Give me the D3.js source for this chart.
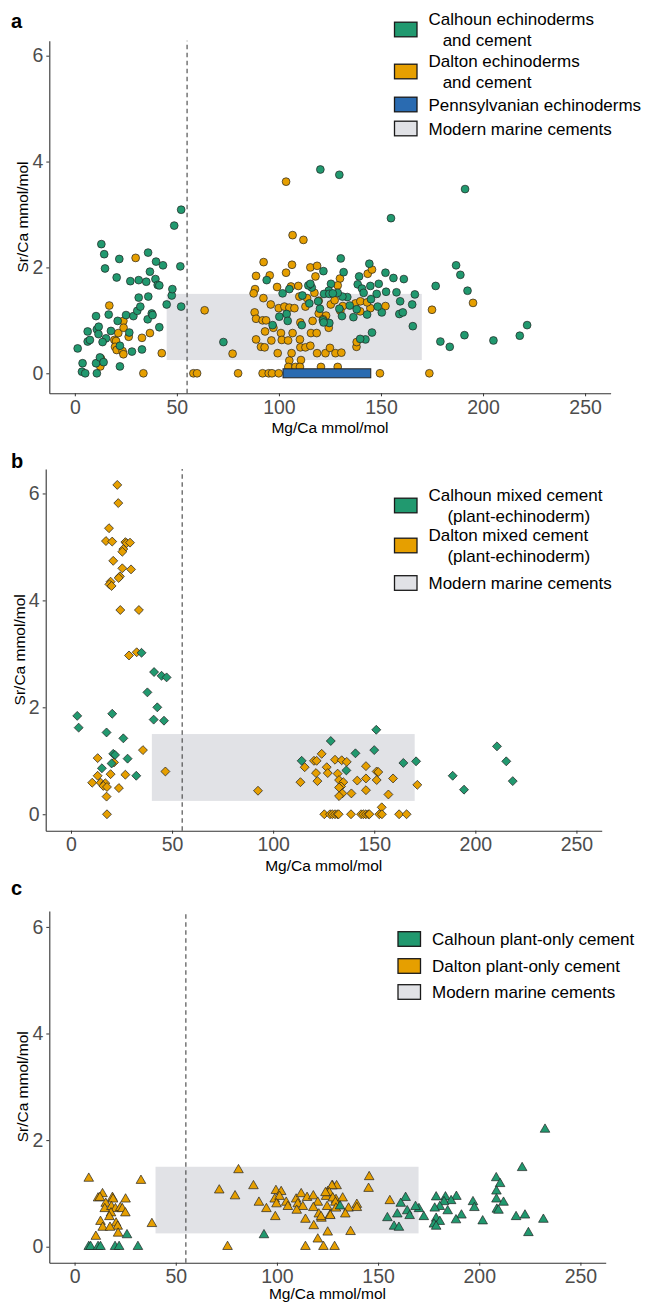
<!DOCTYPE html>
<html>
<head>
<meta charset="utf-8">
<script src="https://cdn.jsdelivr.net/npm/d3@7"></script>
<style>
  body { margin: 0; background: #fff; }
  svg text { font-family: "Liberation Sans", Arial, sans-serif; }
</style>
</head>
<body>
<svg id="chart" width="647" height="1303"></svg>
<script>
// ---- data (Mg/Ca, Sr/Ca in mmol/mol) ----
var xTicks = [0, 50, 100, 150, 200, 250];
var yTicks = [0, 2, 4, 6];
var seawaterLine = 55;

var modernA = [45, 170, 0.25, 1.5];
var modernBC = [40, 170, 0.25, 1.5];
var pennsylvanian = [102, 145, -0.085, 0.085];

var calhounA = [
	[1.4,0.47],[3.8,0.19],[3.5,0.03],[5.1,0],[6.3,0.79],[6.3,0.6],[7.4,0.63],[10.4,1.08],[10.8,0.83],[11.7,0.88],
	[11.6,0.74],[10.4,0.19],[10.8,0],[12.3,0.3],[13.0,2.44],[14.1,0.21],[14.4,2.25],[14.8,1.98],[15.3,0.66],[13.6,0.59],
	[16.6,1.11],[17.7,0.8],[20.5,1.81],[21.0,0.99],[21.8,2.16],[22.1,0.52],[22.1,0.13],[25.1,1.1],[26.7,0.77],[27.2,1.74],
	[28.0,0.41],[28.7,1.08],[30.6,1.18],[31.3,1.43],[31.3,1.76],[32.1,1.26],[32.9,0.45],[35.0,1.73],[35.9,2.28],[36.0,1.45],
	[35.7,1.02],[36.8,1.92],[37.7,1.13],[38.1,1.1],[39.5,1.78],[39.8,2.11],[40.6,1.67],[41.4,1.66],[41.4,0.87],[43.2,2.04],
	[45.0,1.3],[47.5,1.47],[47.8,1.59],[48.7,2.79],[52.1,3.09],[51.7,2.02],[52.1,1.26],[72.8,0.59],
	[120.3,3.85],[129.6,3.75],[191.2,3.48],[154.9,2.93],[130.3,2.17],[144.3,2.07],[131.7,1.91],[139.3,1.83],[152.2,1.9],[156.1,1.8],
	[161.2,1.78],[186.8,2.04],[188.9,1.86],[192.4,1.56],[176.8,1.65],[94,1.76],[121.8,1.93],[148.9,1.69],[144.8,1.65],[138.6,1.68],
	[140.7,1.6],[141.5,1.52],[147.9,1.5],[152.5,1.54],[157.6,1.53],[159.4,1.36],[166.6,1.49],[165.3,1.3],[165.6,0.89],[159,1.12],
	[160.7,1.15],[150.4,1.15],[148.4,1.26],[145.1,1.4],[143.2,1.11],[138.1,1.21],[136.5,1.06],[134.7,1.28],[133.5,1.44],[131.1,1.45],
	[130.9,1.08],[129.6,1.22],[128.8,1.52],[125.5,1.69],[124.4,1.56],[122.1,1.5],[120.1,1.22],[124.7,0.95],[121.6,1.0],[119.2,1.36],
	[116.1,1.62],[114.4,1.66],[114.9,1.32],[111.5,1.47],[111.2,0.91],[105.1,1.59],[101.8,1.51],[103.8,1.12],[104.3,0.99],[100.2,1.07],
	[96.9,0.91],[145.6,0.77],[142.4,0.64],[139.8,0.65],[179.1,0.6],[183.7,0.5],[190.9,0.72],[205.1,0.62],[218,0.71],[221.6,0.91],
	[121.9,0.96],[115.4,1.69],[124.7,1.5],[126.4,1.51]
];

var daltonA = [
	[12.8,0.28],[12.5,0.13],[16.9,1.28],[19.4,0.63],[20.2,0.61],[19.7,0.5],[20.5,0.44],[21.3,0.76],[23.8,0.99],[23.9,0.86],
	[23.4,0.42],[23.8,0.36],[26.4,0.69],[29.8,2.18],[32.9,0.67],[33.6,0],[36.8,0.76],[42.6,0.38],[63.6,1.19],[58.1,0],[59.9,0],
	[103.5,3.62],[106.7,2.61],[112,2.52],[92.5,2.1],[106.4,2.05],[115.4,2.0],[118.7,2.03],[88.8,1.84],[95.5,1.85],[103.5,1.9],
	[143.5,1.88],[145.6,1.96],[117.9,1.83],[129.9,1.79],[88.3,1.59],[87.6,1.51],[99.1,1.63],[105.9,1.64],[109.5,1.65],[128.8,1.66],
	[92.4,1.42],[110,1.45],[117.4,1.52],[113.8,1.42],[96,1.3],[99.9,1.23],[102.7,1.26],[105.1,1.24],[107.6,1.23],[113,1.26],
	[119.5,1.37],[125.4,1.3],[127.3,1.38],[137.5,1.32],[139.8,1.17],[144.8,1.23],[152.2,1.27],[175,1.2],[195.1,1.33],[88.1,1.15],
	[88.8,1.03],[92.0,1.0],[93.7,1.0],[97.3,0.86],[93.2,0.79],[88.8,0.64],[91.2,0.5],[93,0.49],[96.3,0.62],[101,0.76],
	[101.4,0.63],[104.5,0.62],[106.7,0.76],[110.3,0.64],[110.5,0.49],[113,0.49],[115.4,0.52],[110.5,0.96],[115.7,0.76],[118.5,0.76],
	[116.5,0.99],[119.5,1.13],[123.1,1.09],[124.4,0.86],[121.6,1.02],[99.4,0.38],[106.2,0.38],[105.1,0.24],[110.8,0.25],[118.7,0.38],
	[122.8,0.38],[125,0.48],[127.7,0.38],[130.6,0.39],[138,0.5],[138.1,0.59],[77.3,0.37],[120.6,0.12],[128.8,0.12],[104.6,0.12],
	[108.1,0.12],[110.3,0.12],[80,0],[92,0],[95,0],[96.6,0],[99.9,0],[149.5,0],[173.7,0],[131.3,1.27],
	[130.1,1.18],[139.9,1.36],[143.2,1.34]
];

var calhounB = [
	[34.9,3.02],[41.1,2.66],[44.8,2.59],[47.3,2.56],[37.8,2.28],[42.7,2.0],[40.9,1.77],[46.0,1.75],[3.1,1.84],[3.8,1.62],
	[20.4,1.88],[17.6,1.53],[25.9,1.42],[20.9,1.13],[21.8,1.11],[20.1,0.95],[28.0,1.04],[15.3,0.86],[32.3,0.72],
	[151,1.58],[128.5,1.37],[140.7,1.14],[150,1.2],[114.1,1.0],[170.7,0.99],[164.4,0.96],[136.2,0.82],[188.8,0.72],[194.4,0.46],
	[210.7,1.27],[215.3,0.99],[218.5,0.62]
];

var daltonB = [
	[22.9,6.16],[23.4,5.82],[18.8,5.35],[17.3,5.11],[20.4,5.1],[26.9,5.09],[27.5,5.07],[29.2,5.08],[25.9,4.96],[25.4,4.91],
	[20.9,4.74],[25.4,4.6],[29.7,4.58],[24.2,4.45],[23.6,4.42],[19.6,4.35],[19.0,4.3],[20.1,4.27],[24.4,3.82],[33.6,3.82],
	[28.7,2.97],[32.5,3.03],[35.6,1.2],[13.2,1.05],[21.3,0.97],[19.6,0.75],[13.2,0.72],[26.9,0.74],[10.5,0.59],[14.7,0.59],
	[17.0,0.58],[16,0.53],[17.8,0.51],[23.7,0.49],[17.6,0.33],[17.8,0],[46.7,0.8],[92.5,0.44],
	[124,1.13],[120.2,1.0],[121.5,1.0],[115.6,0.88],[130.6,1.02],[133.9,1.01],[136.4,0.98],[126.5,0.88],[127,0.77],[121.2,0.77],
	[131.9,0.76],[145.9,0.9],[151.2,0.8],[152,0.79],[113.5,0.6],[121.9,0.62],[132.6,0.64],[134.7,0.6],[133.6,0.52],[132.6,0.5],
	[141.6,0.63],[145.9,0.67],[151.2,0.64],[159.3,0.67],[171.3,0.55],[145.9,0.45],[138.7,0.39],[134.2,0.39],[132.6,0.34],[157,0.37],
	[153.7,0.13],[125.3,0],[128.1,0],[129.3,0],[130.6,0],[131.8,0],[132.4,0],[138.5,0],[143.5,0],[144.6,0],
	[145.9,0],[147.1,0],[147.6,0],[152.5,0],[153.8,0],[162.3,0],[166.0,0]
];

var calhounC = [
	[7.0,0],[7.9,0],[11.6,0],[12.8,0],[20,0],[22,0],[31.3,0],[25.9,0.22],[93.6,0.22],
	[232.5,2.2],[221.2,1.48],[208.4,1.29],[210.3,1.18],[208.5,1.04],[208.5,0.89],[212,0.83],[208.7,0.7],[209.5,0.68],[196.9,0.84],
	[197.6,0.73],[188.7,0.94],[183.3,0.93],[186.1,0.86],[182.6,0.84],[178.7,0.93],[180.5,0.75],[178,0.72],[184.4,0.67],[191.2,0.59],
	[188.5,0.5],[201.7,0.48],[178.7,0.53],[180.5,0.47],[177.6,0.42],[178.7,0.38],[172.6,0.56],[170.2,0.71],[168.5,0.75],[163.6,0.92],
	[161.2,0.81],[164.4,0.67],[165.6,0.58],[159.5,0.61],[154.6,0.54],[157.9,0.38],[160.3,0.36],[131.2,0.76],[218.2,0.56],[222.6,0.59],
	[224.3,0.26],[231.7,0.51]
];

var daltonC = [
	[7.0,1.28],[11.6,0.91],[13.8,0.99],[12.5,0.92],[15.4,0.81],[18.7,0.92],[19.0,0.89],[25.2,0.89],[14.9,0.71],[18.2,0.75],
	[20.2,0.71],[22.6,0.73],[23.6,0.71],[25.1,0.63],[18,0.63],[17.2,0.56],[12.8,0.47],[20.5,0.44],[21.3,0.38],[13.9,0.36],
	[17.5,0.36],[21.5,0.25],[10.5,0.19],[32.8,1.24],[38.2,0.43],[71.5,1.06],[81.0,1.44],[79.3,0.95],[88.4,1.14],[91.1,0.83],
	[94.8,0.71],[75.6,0],[99.5,1.05],[102.1,1.03],[98.9,0.89],[101.3,0.94],[99.8,0.8],[104.6,0.83],[105.4,0.75],[99.2,0.56],
	[109.5,0.89],[112,0.99],[110.3,0.8],[112.8,0.75],[109.8,0.68],[114.1,0.51],[114.9,0.92],[118.0,0.95],[120.2,0.83],[118,0.73],
	[120.7,0.61],[122,0.53],[118.2,0.39],[124.3,0.94],[125.1,1.03],[127.5,1.14],[129.2,0.88],[126.2,0.59],[125.1,0.27],[120.2,0.14],
	[114.1,0],[123,0],[128.5,0],
	[145.6,1.31],[145.3,1.09],[129.5,1.14],[127.2,1.14],[125.9,1.01],[124,1.01],[127.6,0.91],[132.5,0.91],[128.9,0.83],[124.8,0.75],
	[129.2,0.72],[135.4,0.72],[139.5,0.79],[139.5,0.73],[133.8,0.61],[126.4,0.58],[121.8,0.56],[155.8,0.86],[136.4,0.28]
];

var legendA = ["Calhoun echinoderms\n   and cement", "Dalton echinoderms\n   and cement", "Pennsylvanian echinoderms", "Modern marine cements"];
var legendB = ["Calhoun mixed cement\n    (plant-echinoderm)", "Dalton mixed cement\n    (plant-echinoderm)", "Modern marine cements"];
var legendC = ["Calhoun plant-only cement", "Dalton plant-only cement", "Modern marine cements"];

// ---- style ----
var green = "#21996f";
var orange = "#e69f00";
var blue = "#2a6bb1";
var modernFill = "#e1e2e6";
var axisColor = "#333333";
var tickText = "#4d4d4d";

var svg = d3.select("#chart");

function markerPath(shape) {
	if (shape === "diamond") return d3.symbol(d3.symbolSquare, 40)();
	if (shape === "triangle") return d3.symbol(d3.symbolTriangle, 40)();
	return d3.symbol(d3.symbolCircle, Math.PI * 3.9 * 3.9)();
}

function drawPanel(p) {
	var g = svg.append("g");
	var x = d3.scaleLinear().domain([-12.5, 262.5]).range(p.xRange);
	var y = d3.scaleLinear().domain(p.yDomain).range(p.yRange);

	// modern marine cement field
	g.append("rect")
		.attr("x", x(p.modern[0]))
		.attr("width", x(p.modern[1]) - x(p.modern[0]))
		.attr("y", y(p.modern[3]))
		.attr("height", y(p.modern[2]) - y(p.modern[3]))
		.attr("fill", modernFill);

	// seawater threshold
	g.append("line")
		.attr("x1", x(seawaterLine)).attr("x2", x(seawaterLine))
		.attr("y1", p.yRange[0]).attr("y2", p.yRange[1])
		.attr("stroke", "#444")
		.attr("stroke-width", 1.1)
		.attr("stroke-dasharray", "4.5,3.5");

	var path = markerPath(p.shape);
	var rot = p.shape === "diamond" ? " rotate(45)" : "";
	[[p.dalton, orange], [p.calhoun, green]].forEach(function (s) {
		g.append("g").selectAll("path")
			.data(s[0])
			.enter().append("path")
			.attr("d", path)
			.attr("transform", function (d) { return "translate(" + x(d[0]) + "," + y(d[1]) + ")" + rot; })
			.attr("fill", s[1])
			.attr("stroke", "#222")
			.attr("stroke-width", 0.7);
	});

	if (p.penn) {
		g.append("rect")
			.attr("x", x(p.penn[0]))
			.attr("width", x(p.penn[1]) - x(p.penn[0]))
			.attr("y", y(p.penn[3]))
			.attr("height", y(p.penn[2]) - y(p.penn[3]))
			.attr("fill", blue)
			.attr("stroke", "#222")
			.attr("stroke-width", 1);
	}

	// axes
	var fmt = d3.format("d");
	var xAxis = g.append("g")
		.attr("transform", "translate(0," + p.yRange[0] + ")")
		.call(d3.axisBottom(x).tickValues(xTicks).tickFormat(fmt).tickSize(3).tickSizeOuter(0).tickPadding(3.5));
	var yAxis = g.append("g")
		.attr("transform", "translate(" + p.xRange[0] + ",0)")
		.call(d3.axisLeft(y).tickValues(yTicks).tickFormat(fmt).tickSize(3).tickSizeOuter(0).tickPadding(3));
	[xAxis, yAxis].forEach(function (a) {
		a.select(".domain").attr("stroke", axisColor).attr("stroke-width", 1.1);
		a.selectAll(".tick line").attr("stroke", axisColor);
		a.selectAll(".tick text")
			.attr("fill", tickText)
			.style("font-size", "19.5px")
			.style("font-family", "'Liberation Sans', Arial, sans-serif");
	});

	g.append("text")
		.attr("x", (p.xRange[0] + p.xRange[1]) / 2)
		.attr("y", p.yRange[0] + p.xTitleGap)
		.attr("text-anchor", "middle")
		.style("font-size", "15.5px")
		.text("Mg/Ca mmol/mol");

	g.append("text")
		.attr("transform", "translate(" + p.yTitleX + "," + (p.yRange[0] + p.yRange[1]) / 2 + ") rotate(-90)")
		.attr("text-anchor", "middle")
		.style("font-size", "15.5px")
		.text("Sr/Ca mmol/mol");

	g.append("text")
		.attr("x", p.labelPos[0])
		.attr("y", p.labelPos[1])
		.style("font-size", "20px")
		.style("font-weight", "bold")
		.text(p.label);

	// legend
	p.legend.forEach(function (label, i) {
		var cy = p.legendY[i];
		g.append("rect")
			.attr("x", p.legendX)
			.attr("y", cy - 7.3)
			.attr("width", 22.5)
			.attr("height", 14.6)
			.attr("fill", p.legendFill[i])
			.attr("stroke", "#1a1a1a")
			.attr("stroke-width", 1.3);
		var lines = label.split("\n");
		lines.forEach(function (line, j) {
			g.append("text")
				.attr("x", p.legendX + 34)
				.attr("y", cy + (j - (lines.length - 1) / 2) * 21 + 6)
				.style("font-size", "17px")
				.style("white-space", "pre")
				.text(line);
		});
	});
}

drawPanel({
	label: "a", labelPos: [11, 28],
	xRange: [49.3, 610.6], yRange: [393.3, 40.7], yDomain: [-0.378, 6.283],
	yTitleX: 28, xTitleGap: 40,
	modern: modernA, penn: pennsylvanian,
	shape: "circle", calhoun: calhounA, dalton: daltonA,
	legend: legendA, legendFill: [green, orange, blue, modernFill],
	legendX: 394.5, legendY: [29.5, 71.5, 104.5, 128.5]
});

drawPanel({
	label: "b", labelPos: [11, 468],
	xRange: [45.7, 601.7], yRange: [830.7, 469], yDomain: [-0.3075, 6.4575],
	yTitleX: 25, xTitleGap: 40,
	modern: modernBC, penn: null,
	shape: "diamond", calhoun: calhounB, dalton: daltonB,
	legend: legendB, legendFill: [green, orange, modernFill],
	legendX: 394.5, legendY: [505.5, 545.5, 583]
});

drawPanel({
	label: "c", labelPos: [11, 895],
	xRange: [49.3, 605.7], yRange: [1262.7, 910.9], yDomain: [-0.3, 6.3],
	yTitleX: 28, xTitleGap: 36.5,
	modern: modernBC, penn: null,
	shape: "triangle", calhoun: calhounC, dalton: daltonC,
	legend: legendC, legendFill: [green, orange, modernFill],
	legendX: 398, legendY: [939, 966, 992]
});
</script>
</body>
</html>
